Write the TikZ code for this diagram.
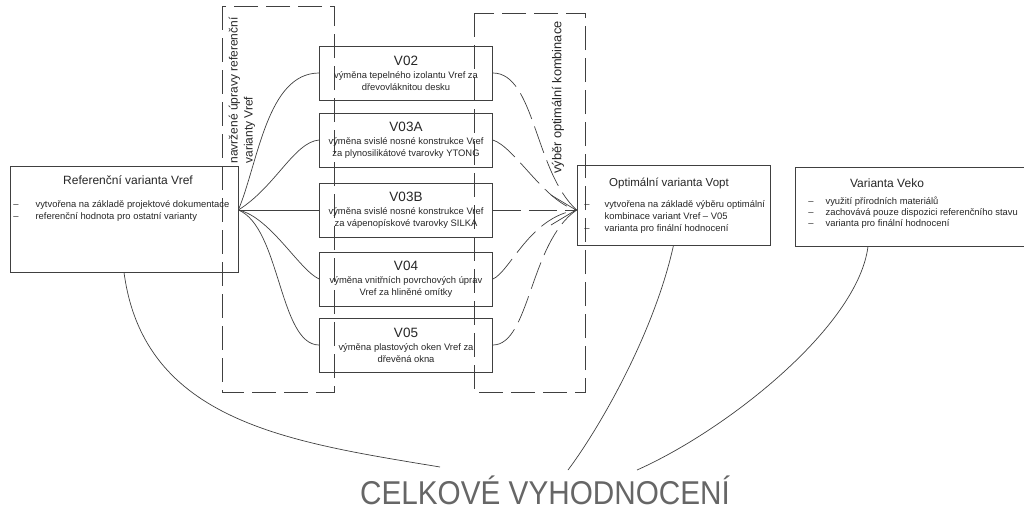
\documentclass[tikz,border=0pt]{standalone}
\usepackage{fontspec}
\setmainfont{Liberation Sans}
\usetikzlibrary{arrows.meta}

\begin{document}
\begin{tikzpicture}[x=1pt, y=-1pt, line width=0.7pt, color=black!75,
  every node/.style={font=\fontsize{9.4}{12}\selectfont, text=black!85, inner sep=0pt},
  b/.style={draw, minimum width=173pt, minimum height=54pt, align=center},
  grp/.style={dash pattern=on 24pt off 8pt},
  sel/.style={dash pattern=on 28pt off 8pt},
  tit/.style={font=\fontsize{12}{14}\selectfont},
  vtit/.style={font=\fontsize{12}{15}\selectfont}]
  \useasboundingbox (0,0) rectangle (1024,512);
  % groups
  \draw[grp] (222,6) rectangle (334,392);
  \draw[grp] (474,13) rectangle (585,392);
  \node[vtit, rotate=90, anchor=west, align=left] (lgrp) at (242,164) {navržené úpravy referenční\\varianty Vref};
  \node[vtit, rotate=90, anchor=west, font=\fontsize{12.8}{15}\selectfont] (rgrp) at (558,174) {výběr optimální kombinace};
  % reference variant
  \node[draw, minimum width=228pt, minimum height=106pt] (ref) at (124,219) {};
  \node[tit] (reft) at (128,180) {Referenční varianta Vref};
  \node[anchor=north west] (refl) at (13,199) {\begin{tabular}{@{}l@{\hspace{17pt}}l@{}}
    –&vytvořena na základě projektové dokumentace\\
    –&referenční hodnota pro ostatní varianty\end{tabular}};
  % proposed modifications
  \node[b] (v02) at (406,73) {{\fontsize{13.5}{16}\selectfont V02}\\[1pt]výměna tepelného izolantu Vref za\\dřevovláknitou desku};
  \node[b] (v03a) at (406,140) {{\fontsize{13.5}{16}\selectfont V03A}\\[1pt]výměna svislé nosné konstrukce Vref\\za plynosilikátové tvarovky YTONG};
  \node[b] (v03b) at (406,210) {{\fontsize{13.5}{16}\selectfont V03B}\\[1pt]výměna svislé nosné konstrukce Vref\\za vápenopískové tvarovky SILKA};
  \node[b] (v04) at (406,279) {{\fontsize{13.5}{16}\selectfont V04}\\[1pt]výměna vnitřních povrchových úprav\\Vref za hliněné omítky};
  \node[b] (v05) at (406,345) {{\fontsize{13.5}{16}\selectfont V05}\\[1pt]výměna plastových oken Vref za\\dřevěná okna};
  % optimal variant
  \node[draw, minimum width=193pt, minimum height=80pt] (opt) at (673.5,205) {};
  \node[font=\fontsize{11.5}{13}\selectfont] (optt) at (669,183) {Optimální varianta Vopt};
  \node[anchor=north west] (optl) at (584,199) {\begin{tabular}{@{}l@{\hspace{15pt}}l@{}}
    –&vytvořena na základě výběru optimální\\
    &kombinace variant Vref – V05\\
    –&varianta pro finální hodnocení\end{tabular}};
  % eco variant
  \node[draw, minimum width=240pt, minimum height=79pt] (veko) at (915,206.5) {};
  \node[tit] (vekot) at (887,183) {Varianta Veko};
  \node[anchor=north west] (vekol) at (808,197) {\renewcommand\arraystretch{0.88}\begin{tabular}{@{}l@{\hspace{12pt}}l@{}}
    –&využití přírodních materiálů\\
    –&zachovává pouze dispozici referenčního stavu\\
    –&varianta pro finální hodnocení\end{tabular}};
  % overall evaluation
  \node[font=\fontsize{33}{36}\selectfont, xscale=0.9, anchor=base, text=black!60] (total) at (545,504) {CELKOVÉ VYHODNOCENÍ};
  \coordinate (fork) at (ref.east |- v03b.west);
  \coordinate (join) at (opt.west |- v03b.east);
  \coordinate (e1) at (440,467); \coordinate (e2) at (568,470); \coordinate (e3) at (637,470);
  % fan out
  \draw (fork) .. controls +(20,-48) and +(-52,0) .. (v02.west);
  \draw (fork) .. controls +(37,-23) and +(-25,2) .. (v03a.west);
  \draw (fork) -- (v03b.west);
  \draw (fork) .. controls +(32,7) and +(-20,-9) .. (v04.west);
  \draw (fork) .. controls +(42,17) and +(-40,0) .. (v05.west);
  % fan in
  \draw[sel] (v02.east) .. controls +(42,0) and +(-42,-38) .. (join);
  \draw[sel] (v03a.east) .. controls +(22,7) and +(-32,-8) .. (join);
  \draw[sel, -{Straight Barb[length=25pt, width=30pt]}] (v03b.east) -- (join);
  \draw[sel] (v04.east) .. controls +(17,-7) and +(-47,7) .. (join);
  \draw[sel] (v05.east) .. controls +(37,0) and +(-47,32) .. (join);
  % to evaluation
  \draw (ref.south) .. controls +(20,150) and +(-150,-25) .. (e1);
  \draw (opt.south) .. controls +(-20,90) and +(30,-40) .. (e2);
  \draw ([xshift=-47pt]veko.south) .. controls +(-10,80) and +(90,-40) .. (e3);
\end{tikzpicture}
\end{document}
